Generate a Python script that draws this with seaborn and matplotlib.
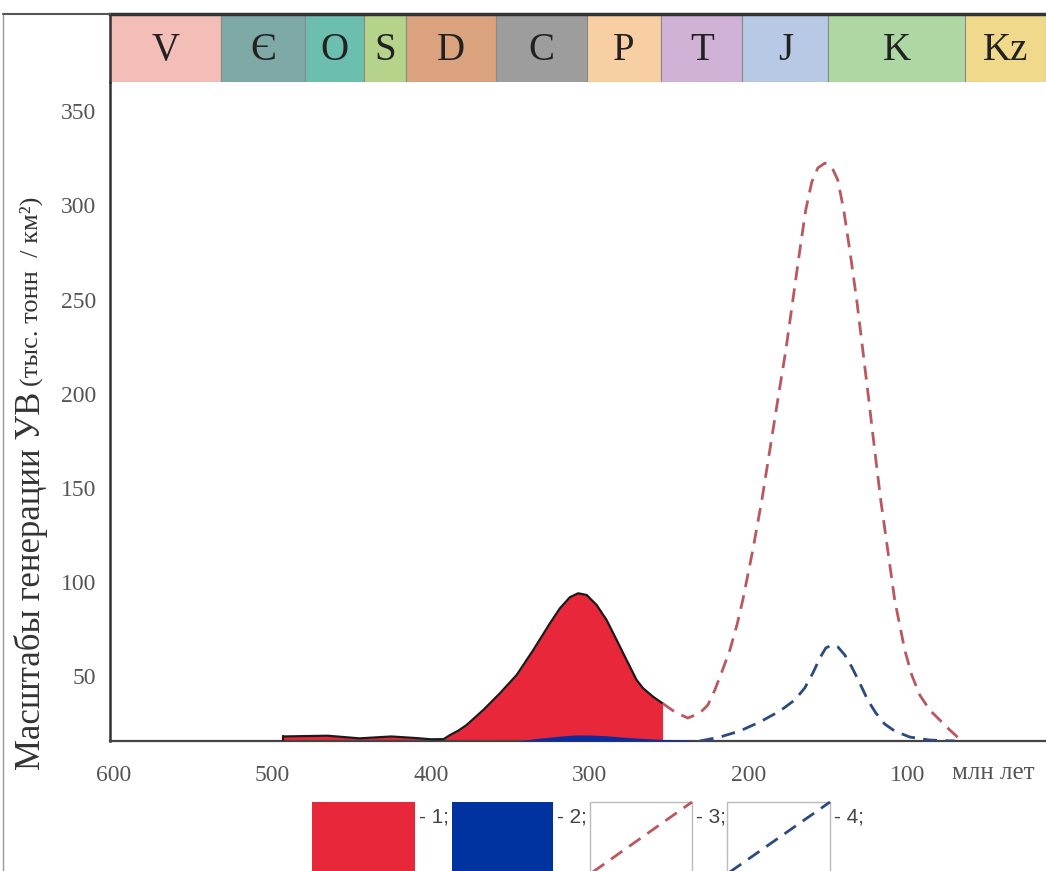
"""
Hydrocarbon generation scale through geological time.
"""

import matplotlib.pyplot as plt
import seaborn as sns
from matplotlib.patches import Rectangle
from matplotlib.lines import Line2D

# geological time scale as drawn on the bar (Ma)
periods = ['V', 'Є', 'O', 'S', 'D', 'C', 'P', 'T', 'J', 'K', 'Kz']
period_start = [602, 532, 479, 442, 416, 359, 302, 255, 204, 150, 64]
period_end = [532, 479, 442, 416, 359, 302, 255, 204, 150, 64, 13]
period_colors = ['#f3bdb8', '#7fa9a6', '#6cbfae', '#b6d38c', '#dba27e', '#9d9d9d',
                 '#f7cfa2', '#cfb2d6', '#b8c9e6', '#add8a3', '#f0d98b']

# 1 - realised generation (red fill)
red_fill_age = [493, 480, 465, 455, 445, 435, 425, 410, 400, 392, 388, 382.8, 377.6,
                367.1, 356.6, 346.1, 335.6, 325.2, 318.9, 312.6, 307.4, 302.1, 295.8,
                289.5, 283.2, 276.9, 270.6, 266.5, 260.2, 254.3]
red_fill_val = [17.8, 18.0, 18.2, 17.5, 16.8, 17.3, 17.8, 17.0, 16.3, 16.4, 18.6, 20.9,
                23.9, 31.9, 40.8, 50.5, 63.8, 77.9, 85.9, 91.8, 93.9, 93.0, 87.7, 79.7,
                69.1, 58.4, 47.8, 43.4, 38.9, 35.4]

# 2 - realised generation (blue fill)
blue_fill_age = [345, 335, 320, 310, 300, 290, 280, 268, 254, 240, 231]
blue_fill_val = [15.4, 16.6, 17.9, 18.6, 18.6, 18.2, 17.5, 16.8, 16.2, 15.8, 15.4]

# 3 - potential generation (red dashed)
red_dash_age = [254.3, 246.5, 238.4, 230.8, 225.8, 221.4, 217.0, 211.9, 207.5, 203.8,
                197.5, 191.8, 186.8, 181.8, 176.7, 172.3, 167.9, 164.2, 160.4, 156.6,
                152.2, 147.8, 144.0, 140.3, 136.5, 132.1, 128.3, 124.5, 120.8, 117.0,
                112.6, 108.2, 101.9, 97.5, 92.5, 86.2, 79.9, 73.6, 66.0]
red_dash_val = [35.4, 30.8, 27.6, 30.3, 34.5, 42.5, 52.1, 63.8, 77.0, 90.3, 116.9,
                143.5, 170.0, 196.6, 223.2, 249.7, 276.3, 297.6, 312.4, 319.9, 322.5,
                320.4, 313.5, 297.6, 276.3, 249.7, 223.2, 196.6, 170.0, 143.5, 116.9,
                90.3, 63.8, 50.5, 39.9, 31.9, 26.6, 21.3, 15.4]

# 4 - potential generation (blue dashed)
blue_dash_age = [230.8, 218.2, 205.7, 193.1, 180.5, 171.1, 164.8, 159.7, 155.3, 151.6,
                 147.8, 144.0, 139.6, 135.2, 130.2, 125.2, 120.1, 114.5, 108.2, 98.7,
                 86.2, 70.4]
blue_dash_val = [15.4, 17.5, 20.7, 25.5, 31.3, 37.2, 43.6, 51.5, 59.5, 64.8, 66.4,
                 65.4, 61.1, 54.7, 46.2, 37.2, 30.3, 24.4, 20.7, 17.5, 15.9, 15.4]

x_ticks = [600, 500, 400, 300, 200, 100]
y_ticks = [50, 100, 150, 200, 250, 300, 350]
legend_labels = ['- 1;', '- 2;', '- 3;', '- 4;']

RED = '#e8283a'
BLUE = '#0a2c9c'
RED_DASH = '#b9585f'
BLUE_DASH = '#2b4a7e'
X_MIN, X_MAX = 602, 13
Y_MIN, Y_MAX = 15.4, 365.6

sns.set_theme(style='white')
plt.rcParams['font.family'] = ['Liberation Serif', 'DejaVu Serif']

W, H = 1046, 871
fig = plt.figure(figsize=(W / 100, H / 100), dpi=100)

# main plot
ax = fig.add_axes([110 / W, 1 - 741 / H, (W - 110) / W, (741 - 82) / H])
ax.fill_between(red_fill_age, Y_MIN, red_fill_val, color=RED, lw=0, zorder=2)
ax.fill_between(blue_fill_age, Y_MIN, blue_fill_val, color=BLUE, lw=0, zorder=3)
sns.lineplot(x=red_fill_age, y=red_fill_val, ax=ax, color='#1a1a1a', lw=1.6,
             sort=False, estimator=None, zorder=4)
ax.plot([red_fill_age[0], red_fill_age[0]], [Y_MIN, red_fill_val[0]],
        color='#3a1010', lw=1.6, zorder=4)
sns.lineplot(x=red_dash_age, y=red_dash_val, ax=ax, color=RED_DASH, lw=2,
             linestyle=(0, (5, 3)), sort=False, estimator=None, zorder=4)
sns.lineplot(x=blue_dash_age, y=blue_dash_val, ax=ax, color=BLUE_DASH, lw=2,
             linestyle=(0, (5, 3)), sort=False, estimator=None, zorder=4)

ax.set_xlim(X_MIN, X_MAX)
ax.set_ylim(Y_MIN, Y_MAX)
ax.set_xticks(x_ticks)
ax.set_yticks(y_ticks)
ax.tick_params(axis='both', length=0, labelsize=17, labelcolor='#555555')
ax.tick_params(axis='x', pad=17)
ax.tick_params(axis='y', pad=10)
for side in ['top', 'right']:
    ax.spines[side].set_visible(False)
ax.spines['left'].set_color('#333333')
ax.spines['left'].set_linewidth(1.8)
ax.spines['bottom'].set_color('#444444')
ax.spines['bottom'].set_linewidth(1.6)
ax.set_xlabel('')
ax.set_ylabel('')

# period bar
bar = fig.add_axes([110 / W, 1 - 82 / H, (W - 110) / W, (82 - 14) / H])
for name, start, end, col in zip(periods, period_start, period_end, period_colors):
    bar.axvspan(start, end, color=col, ec='#8a8a8a', lw=0.8)
    bar.text((start + end) / 2, 0.46, name, ha='center', va='center',
             fontsize=28, color='#222222')
bar.set_xlim(X_MIN, X_MAX)
bar.set_ylim(0, 1)
bar.set_xticks([])
bar.set_yticks([])
for side in ['bottom', 'right']:
    bar.spines[side].set_visible(False)
bar.spines['top'].set_color('#333333')
bar.spines['top'].set_linewidth(2.5)
bar.spines['left'].set_color('#333333')
bar.spines['left'].set_linewidth(1.8)

# picture frame on the left / top
fig.add_artist(Line2D([3 / W, 3 / W], [0, 1 - 14 / H], color='#999999', lw=1))
fig.add_artist(Line2D([3 / W, 110 / W], [1 - 14 / H, 1 - 14 / H], color='#555555', lw=1.5))

# axis captions
fig.text(993 / W, 1 - 773 / H, 'млн лет', ha='center', va='center',
         fontsize=18, color='#555555')
lab1 = fig.text(31 / W, 1 - 770 / H, 'Масштабы генерации УВ', rotation=90,
                ha='center', va='bottom', fontsize=25, color='#333333')
fig.canvas.draw()
top_px = lab1.get_window_extent().y1
fig.text(31 / W, (top_px + 6) / H, '(тыс. тонн  / км²)', rotation=90,
         ha='center', va='bottom', fontsize=19, color='#333333')

# legend strip (cut by the lower edge, as in the source)
leg = fig.add_axes([0, 0, 1, 1 - 790 / H])
leg.set_xlim(0, W)
leg.set_ylim(H, 790)
leg.axis('off')
boxes = [(312, 415), (452, 553), (590, 692), (727, 830)]
for i, (x0, x1) in enumerate(boxes):
    if i == 0:
        leg.add_patch(Rectangle((x0, 802), x1 - x0, 90, fc=RED, ec='none'))
    elif i == 1:
        leg.add_patch(Rectangle((x0, 802), x1 - x0, 90, fc='#0033a0', ec='none'))
    else:
        leg.add_patch(Rectangle((x0, 802), x1 - x0, 90, fc='white', ec='#bbbbbb', lw=1))
        col = RED_DASH if i == 2 else BLUE_DASH
        leg.plot([x0, x1], [874, 802], color=col, lw=2, linestyle=(0, (5, 3)))
    leg.text(x1 + 4, 817, legend_labels[i], ha='left', va='center', fontsize=15,
             color='#444444', family=['Liberation Sans', 'DejaVu Sans'])

fig.savefig('out.png', dpi=100)
plt.close(fig)
